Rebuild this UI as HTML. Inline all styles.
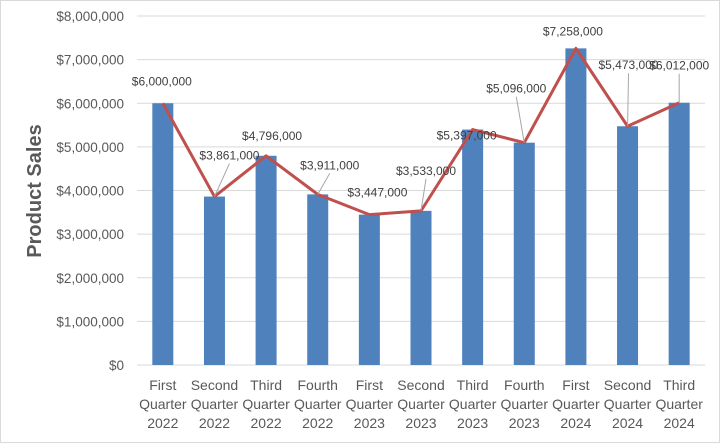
<!DOCTYPE html>
<html><head><meta charset="utf-8"><style>
body{margin:0;background:#fff}
svg{display:block;font-family:"Liberation Sans",sans-serif}
</style></head><body>
<svg id="c" width="720" height="443" viewBox="0 0 720 443">
<rect x="0.5" y="0.5" width="719" height="442" fill="#fff" stroke="#d9d9d9"/>
<text transform="translate(41,191) rotate(-90)" text-anchor="middle" font-size="20" font-weight="bold" fill="#595959">Product Sales</text>
<g id="grid"></g><g id="bars"></g><g id="line"></g><g id="labels"></g><g id="xl"></g>
</svg>
<script>
const quarters=["First","Second","Third","Fourth","First","Second","Third","Fourth","First","Second","Third"];
const years=["2022","2022","2022","2022","2023","2023","2023","2023","2024","2024","2024"];
const sales=[6000000,3861000,4796000,3911000,3447000,3533000,5397000,5096000,7258000,5473000,6012000];
const yTicks=[0,1000000,2000000,3000000,4000000,5000000,6000000,7000000,8000000];
// label offsets (layout only)
const ldx=[-1,15,6,12,8,5,-6,-8,-3,1,0];
const ldy=[-18,-37,-16,-25,-18,-36,10,-50,-13,-57,-33];
const NS="http://www.w3.org/2000/svg";
const L=137,R=705,B=365,T=16;
const y=v=>B-(v/8000000)*(B-T);
const step=(R-L)/sales.length;
const x=i=>L+step*(i+0.5);
const fmt=v=>"$"+v.toLocaleString("en-US");
function mk(t,a,p){const e=document.createElementNS(NS,t);for(const k in a)e.setAttribute(k,a[k]);p.appendChild(e);return e;}
const g=document.getElementById("grid");
yTicks.forEach(v=>{
 const l=mk("line",{x1:L,x2:R,y1:y(v),y2:y(v),stroke:"#d9d9d9","stroke-width":1},g);
 
 
 const t=mk("text",{x:L-13,y:y(v)+5,"text-anchor":"end","font-size":"13.5",fill:"#595959"},g);
 t.textContent=fmt(v);
 
 
});
const bg=document.getElementById("bars");
sales.forEach((v,i)=>{
 const r=mk("rect",{x:x(i)-10.5,y:y(v),width:21,height:B-y(v),fill:"#4f81bd"},bg);
 
 
});
const pts=sales.map((v,i)=>x(i)+","+y(v)).join(" ");
const pl=mk("polyline",{points:pts,fill:"none",stroke:"#c0504d","stroke-width":3,"stroke-linejoin":"round"},document.getElementById("line"));


const lg=document.getElementById("labels");
sales.forEach((v,i)=>{
 const lx=x(i)+ldx[i],ly=y(v)+ldy[i];
 if(ldy[i]<-20){
  const ll=mk("line",{x1:x(i),y1:y(v),x2:lx,y2:ly+4,stroke:"#a6a6a6","stroke-width":1},lg);
  
  
 }
 const t=mk("text",{x:lx,y:ly,"text-anchor":"middle","font-size":"12",fill:"#404040"},lg);
 t.textContent=fmt(v);
 
 
});
const xg=document.getElementById("xl");
quarters.forEach((q,i)=>{
 [q,"Quarter",years[i]].forEach((s,j)=>{
  const t=mk("text",{x:x(i),y:390+j*19,"text-anchor":"middle","font-size":"14",fill:"#595959"},xg);
  t.textContent=s;
  
  
 });
});
</script>
</body></html>
